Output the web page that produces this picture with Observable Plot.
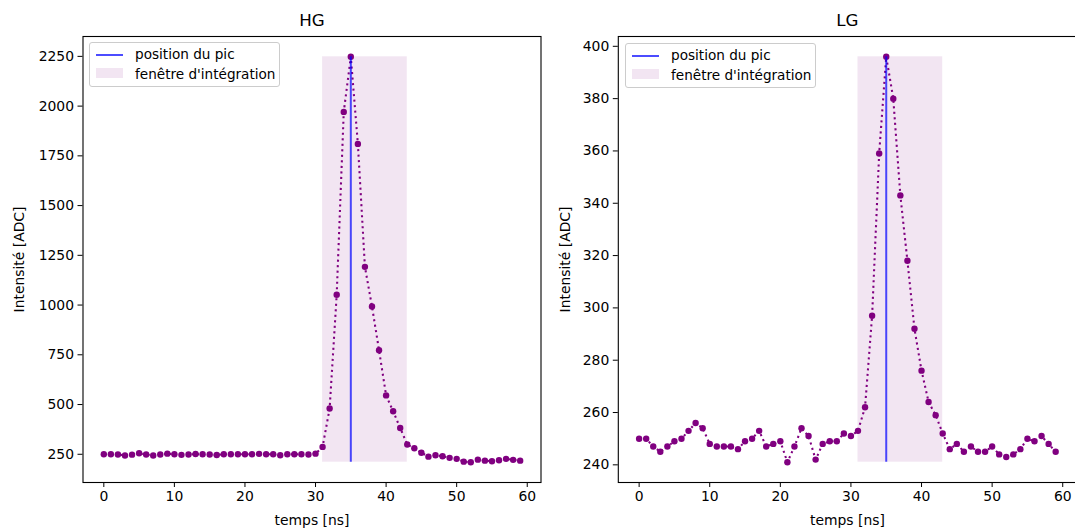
<!DOCTYPE html>
<html>
<head>
<meta charset="utf-8">
<script src="https://cdn.jsdelivr.net/npm/d3@7"></script>
<script src="https://cdn.jsdelivr.net/npm/@observablehq/plot@0.6"></script>
<style>
html, body { margin: 0; padding: 0; background: #fff; overflow: hidden; width: 1075px; height: 529px; }
#wrap { position: relative; width: 1075px; height: 529px; font-family: "DejaVu Sans", sans-serif; }
.panel { position: absolute; top: 0; }
.legend { position: absolute; width: 191px; height: 45px; box-sizing: border-box;
  background: rgba(255,255,255,0.8); border: 1px solid #cccccc; border-radius: 3px; }
.legend .h-line { position: absolute; left: 6px; top: 11px; width: 27px; height: 0; border-top: 2px solid rgba(0,0,255,0.7); }
.legend .h-rect { position: absolute; left: 6px; top: 25px; width: 27px; height: 10px; background: rgba(128,0,128,0.1); }
.legend .t { position: absolute; left: 45px; font-size: 13.6px; line-height: 16px; color: #000; white-space: nowrap; }
</style>
</head>
<body>
<div id="wrap"></div>
<script>
const times = [0,1,2,3,4,5,6,7,8,9,10,11,12,13,14,15,16,17,18,19,20,21,22,23,24,25,26,27,28,29,
  30,31,32,33,34,35,36,37,38,39,40,41,42,43,44,45,46,47,48,49,50,51,52,53,54,55,56,57,58,59];

const hgValues = [250,250,249,244,248,255,249,244,249,253,250,247,249,251,250,249,246,250,250,250,
  250,250,252,250,250,245,250,250,250,249,253,287,480,1052,1971,2248,1810,1192,993,773,
  546,466,382,299,280,258,238,245,240,232,227,213,210,223,218,215,220,227,222,218];

const lgValues = [250,250,247,245,247,249,250,253,256,254,248,247,247,247,246,249,250,253,247,248,
  249,241,247,254,251,242,248,249,249,252,251,253,262,297,359,396,380,343,318,292,
  276,264,259,252,246,248,245,247,245,245,247,244,243,244,246,250,249,251,248,245];

const peakTime = 35;
const windowStart = 31;
const windowEnd = 43;

const xTicks = [0,10,20,30,40,50,60];
const hgTicks = [250,500,750,1000,1250,1500,1750,2000,2250];
const lgTicks = [240,260,280,300,320,340,360,380,400];

const titles = ["HG", "LG"];
const xLabel = "temps [ns]";
const yLabel = "Intensité [ADC]";
const legendLabels = ["position du pic", "fenêtre d'intégration"];

const wrap = document.getElementById("wrap");

function makePanel(values, yTicks, title, cfg) {
  const data = times.map((t, i) => ({t, v: values[i]}));
  const lo = d3.min(values), hi = d3.max(values);
  const pad = 0.05 * (hi - lo);
  const tmin = d3.min(times), tmax = d3.max(times);
  const xpad = 0.05 * (tmax - tmin);
  const win = [{x1: windowStart, x2: windowEnd, y1: lo, y2: hi}];
  const peak = [{t: peakTime, y1: lo, y2: hi}];

  const svg = Plot.plot({
    width: cfg.width,
    height: 529,
    marginLeft: cfg.marginLeft,
    marginRight: cfg.marginRight,
    marginTop: 36,
    marginBottom: 47,
    style: {fontFamily: "DejaVu Sans, sans-serif", fontSize: "13.9px", color: "black", background: "white", overflow: "visible"},
    x: {domain: [tmin - xpad, tmax + xpad], ticks: xTicks, tickSize: 5, tickPadding: 4, label: null, tickFormat: d => String(d)},
    y: {domain: [lo - pad, hi + pad], ticks: yTicks, tickSize: 5, tickPadding: 4, label: null, tickFormat: d => String(d)},
    marks: [
      Plot.rect(win, {x1: "x1", x2: "x2", y1: "y1", y2: "y2", fill: "purple", fillOpacity: 0.1}),
      Plot.line(data, {x: "t", y: "v", stroke: "purple", strokeWidth: 2.08, strokeDasharray: "2.08,3.44", strokeLinecap: "butt"}),
      Plot.dot(data, {x: "t", y: "v", fill: "purple", r: 3.2, stroke: "none"}),
      Plot.ruleX(peak, {x: "t", y1: "y1", y2: "y2", stroke: "blue", strokeOpacity: 0.7, strokeWidth: 2}),
      Plot.frame({stroke: "black", strokeWidth: 1.1}),
      Plot.text([title], {text: d => d, frameAnchor: "top", dy: -15.5, lineAnchor: "middle", fontSize: 16.7}),
      Plot.text([xLabel], {text: d => d, frameAnchor: "bottom", dy: 38, lineAnchor: "middle"}),
      Plot.text([yLabel], {text: d => d, frameAnchor: "left", dx: cfg.yLabelDx, rotate: -90, lineAnchor: "middle", textAnchor: "middle"})
    ]
  });
  svg.classList.add("panel");
  svg.style.left = cfg.left + "px";
  wrap.appendChild(svg);

  const lg = document.createElement("div");
  lg.className = "legend";
  lg.style.left = cfg.legendLeft + "px";
  lg.style.top = cfg.legendTop + "px";
  lg.innerHTML = `<div class="h-line"></div><div class="t" style="top:3px">${legendLabels[0]}</div>
    <div class="h-rect"></div><div class="t" style="top:23px">${legendLabels[1]}</div>`;
  wrap.appendChild(lg);
}

makePanel(hgValues, hgTicks, titles[0], {left: 0, width: 560, marginLeft: 82.5, marginRight: 19.5, yLabelDx: -63.5, legendLeft: 89, legendTop: 42});
makePanel(lgValues, lgTicks, titles[1], {left: 560, width: 517, marginLeft: 57.8, marginRight: 1, yLabelDx: -53, legendLeft: 625, legendTop: 43});
</script>
</body>
</html>
